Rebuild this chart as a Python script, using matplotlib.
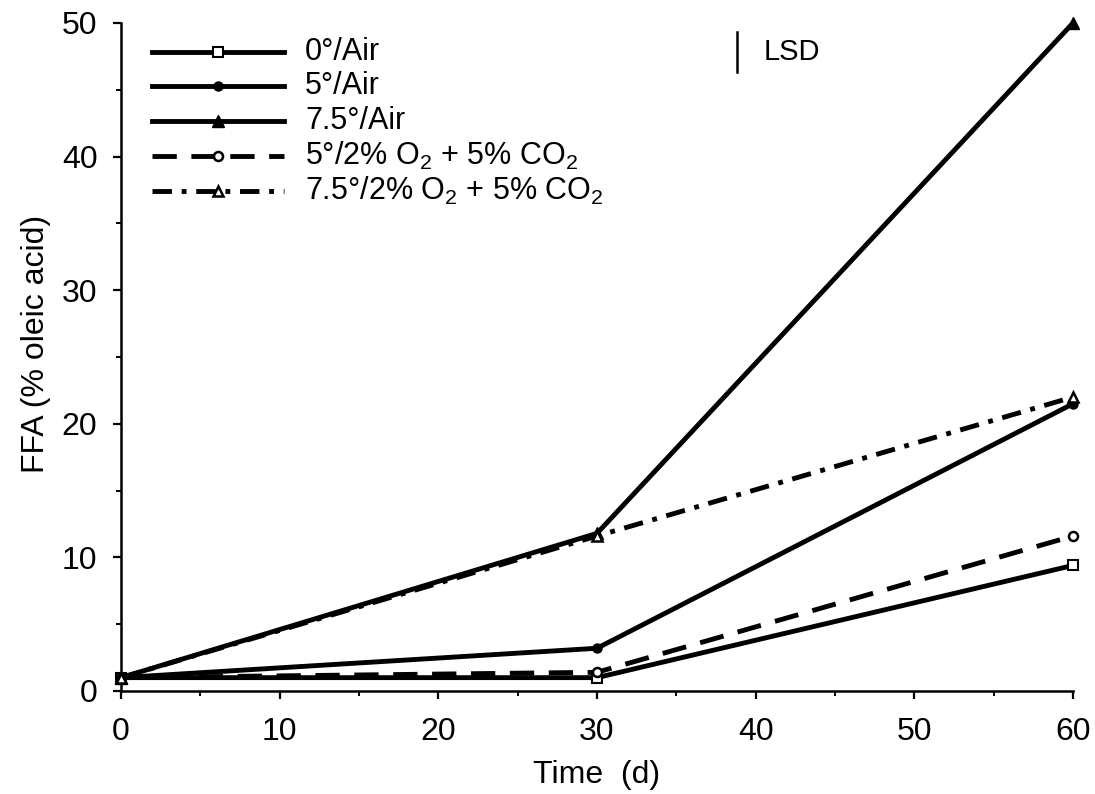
import matplotlib
matplotlib.use("Agg")
import matplotlib.pyplot as plt
from matplotlib.lines import Line2D
from matplotlib.ticker import MultipleLocator

plt.rcParams['font.family'] = ['Liberation Sans', 'DejaVu Sans']
plt.rcParams['mathtext.default'] = 'regular'

# storage time (days)
days = [0, 30, 60]

# FFA (% oleic acid) per treatment
air_0 = [1.0, 1.0, 9.4]
air_5 = [1.0, 3.2, 21.5]
air_75 = [1.0, 11.8, 50.0]
ca_5 = [1.0, 1.4, 11.6]
ca_75 = [1.0, 11.6, 22.0]

labels = [
    "0°/Air",
    "5°/Air",
    "7.5°/Air",
    "5°/2% O$_2$ + 5% CO$_2$",
    "7.5°/2% O$_2$ + 5% CO$_2$",
]

# LSD bar (x position, bottom, top)
lsd_x = 38.8
lsd_lo, lsd_hi = 46.3, 49.3

LW = 3.5
styles = [
    dict(ls='-', marker='s', ms=6.5, mfc='white', mew=1.5),
    dict(ls='-', marker='o', ms=6.5, mfc='black', mew=1.0),
    dict(ls='-', marker='^', ms=8.5, mfc='black', mew=1.0),
    dict(ls=(0, (5, 3)), marker='o', ms=6.5, mfc='white', mew=1.8),
    dict(ls=(0, (4, 2, 1, 2)), marker='^', ms=7.5, mfc='white', mew=1.8),
]
series = [air_0, air_5, air_75, ca_5, ca_75]

fig = plt.figure(figsize=(10.95, 7.94), dpi=100)
W, H = 1095.0, 794.0
ax = fig.add_axes([121 / W, 1 - 691 / H, 952 / W, 668 / H])

for vals, st in zip(series, styles):
    ax.plot(days, vals, color='black', lw=LW, mec='black', clip_on=False,
            zorder=3, **st)

# LSD indicator
ax.plot([lsd_x, lsd_x], [lsd_lo, lsd_hi], color='black', lw=1.8)
ax.text(lsd_x + 1.7, (lsd_lo + lsd_hi) / 2, "LSD", fontsize=21,
        va='center', ha='left')

# legend drawn by hand (pixel layout from the figure)
row_y = [52, 86, 121, 156, 191]
for y, st, lab in zip(row_y, styles, labels):
    fy = 1 - y / H
    ln = Line2D([152 / W, 218 / W, 284 / W], [fy, fy, fy], color='black',
                lw=LW, mec='black', markevery=[1], transform=fig.transFigure,
                **st)
    fig.add_artist(ln)
    fig.text(305 / W, fy, lab, fontsize=22, va='center', ha='left')

ax.set_xlim(0, 60)
ax.set_ylim(0, 50)
ax.spines['top'].set_visible(False)
ax.spines['right'].set_visible(False)
for s in ('left', 'bottom'):
    ax.spines[s].set_linewidth(1.8)

ax.xaxis.set_major_locator(MultipleLocator(10))
ax.xaxis.set_minor_locator(MultipleLocator(5))
ax.yaxis.set_major_locator(MultipleLocator(10))
ax.yaxis.set_minor_locator(MultipleLocator(5))
ax.tick_params(axis='both', which='major', labelsize=23, width=1.6, length=6)
ax.tick_params(axis='both', which='minor', width=1.4, length=3.5)
ax.tick_params(axis='x', which='major', pad=13)
ax.tick_params(axis='y', which='major', pad=11)

ax.set_xlabel("Time  (d)", fontsize=23)
ax.set_ylabel("FFA (% oleic acid)", fontsize=23)
ax.xaxis.set_label_coords(0.5, -0.104)
ax.yaxis.set_label_coords(-0.074, 0.52)

fig.savefig("out.png", dpi=100)
